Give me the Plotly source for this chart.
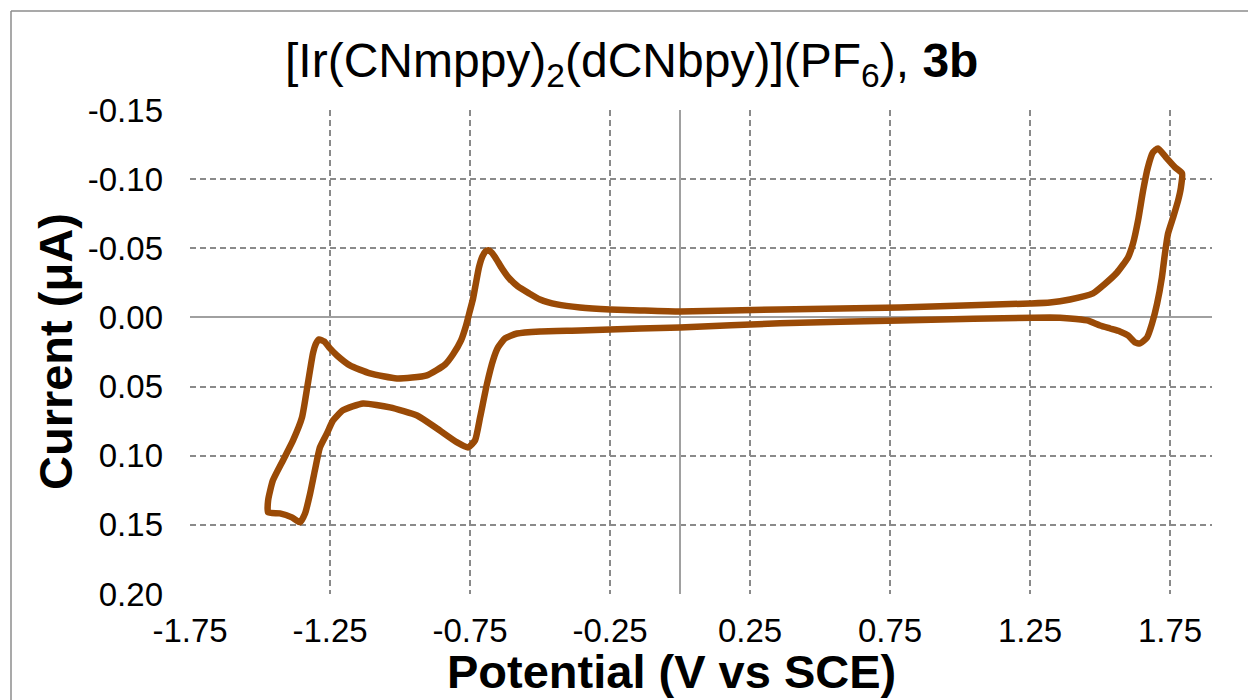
import plotly.graph_objects as go

# Cyclic voltammogram
# Forward sweep from the left vertex up to -0.5 V
pot_fwd_left = [-1.471, -1.454, -1.418, -1.382, -1.350, -1.329, -1.311, -1.300, -1.289, -1.271,
                -1.250, -1.225, -1.179, -1.107, -1.011, -0.904, -0.839, -0.811, -0.782, -0.764,
                -0.750, -0.739, -0.729, -0.718, -0.706, -0.694, -0.684, -0.672, -0.657, -0.636,
                -0.611, -0.579, -0.539]
cur_fwd_left = [0.1323, 0.1179, 0.1034, 0.0889, 0.0723, 0.0477, 0.0260, 0.0188, 0.0159, 0.0174,
                0.0224, 0.0275, 0.0347, 0.0405, 0.0441, 0.0419, 0.0340, 0.0268, 0.0166, 0.0058,
                -0.0051, -0.0137, -0.0246, -0.0362, -0.0440, -0.0478, -0.0486, -0.0468, -0.0425, -0.0355,
                -0.0285, -0.0224, -0.0174]

# Forward sweep from -0.5 V to the right vertex
pot_fwd_right = [-0.500, -0.439, -0.357, -0.250, -0.143, 0.000, 0.357, 0.786, 1.250, 1.321,
                 1.393, 1.475, 1.511, 1.561, 1.600, 1.618, 1.636, 1.654, 1.671, 1.689,
                 1.707, 1.739, 1.768, 1.793]
cur_fwd_right = [-0.0130, -0.0094, -0.0072, -0.0058, -0.0051, -0.0043, -0.0058, -0.0072, -0.0101, -0.0108,
                 -0.0130, -0.0174, -0.0231, -0.0325, -0.0434, -0.0535, -0.0701, -0.0918, -0.1085, -0.1193,
                 -0.1222, -0.1150, -0.1085, -0.1041]

# Reverse sweep from the right vertex back to the left vertex
pot_rev = [1.789, 1.779, 1.761, 1.743, 1.732, 1.721, 1.704, 1.686, 1.668, 1.643,
           1.625, 1.600, 1.571, 1.536, 1.500, 1.454, 1.393, 1.321, 0.786, 0.357,
           0.000, -0.143, -0.357, -0.500, -0.582, -0.625, -0.650, -0.668, -0.689, -0.714,
           -0.732, -0.757, -0.796, -0.868, -0.939, -1.036, -1.132, -1.204, -1.239, -1.261,
           -1.286, -1.304, -1.321, -1.339, -1.357, -1.386, -1.429, -1.471, -1.471]
cur_rev = [-0.0940, -0.0846, -0.0723, -0.0607, -0.0463, -0.0289, -0.0101, 0.0043, 0.0145, 0.0188,
           0.0181, 0.0130, 0.0101, 0.0080, 0.0058, 0.0022, 0.0007, 0.0000, 0.0022, 0.0043,
           0.0072, 0.0080, 0.0094, 0.0101, 0.0116, 0.0152, 0.0217, 0.0311, 0.0477, 0.0723,
           0.0889, 0.0940, 0.0904, 0.0803, 0.0709, 0.0651, 0.0622, 0.0672, 0.0745, 0.0839,
           0.0940, 0.1106, 0.1273, 0.1417, 0.1482, 0.1446, 0.1417, 0.1410, 0.1323]

x_tick_vals = [-1.75, -1.25, -0.75, -0.25, 0.25, 0.75, 1.25, 1.75]
x_tick_text = ["-1.75", "-1.25", "-0.75", "-0.25", "0.25", "0.75", "1.25", "1.75"]
y_tick_vals = [-0.15, -0.10, -0.05, 0.00, 0.05, 0.10, 0.15, 0.20]
y_tick_text = ["-0.15", "-0.10", "-0.05", "0.00", "0.05", "0.10", "0.15", "0.20"]

potential = pot_fwd_left + pot_fwd_right + pot_rev
current = cur_fwd_left + cur_fwd_right + cur_rev

FONT = "Arial, Liberation Sans, sans-serif"
GRID = "#8a8a8a"

fig = go.Figure()
fig.add_trace(go.Scatter(
    x=potential, y=current, mode="lines",
    line=dict(color="#9a4a06", width=6.5, shape="spline", smoothing=0.5),
    showlegend=False, hoverinfo="skip",
))

fig.update_layout(
    width=1248, height=700,
    margin=dict(l=190, r=36, t=110, b=106),
    paper_bgcolor="white", plot_bgcolor="white",
    font=dict(family=FONT, color="black"),
    showlegend=False,
)

fig.update_xaxes(
    range=[-1.75, 1.9],
    tickmode="array", tickvals=x_tick_vals, ticktext=x_tick_text,
    showgrid=True, gridcolor=GRID, gridwidth=1.5, griddash="6px,4px",
    zeroline=True, zerolinecolor="#a0a0a0", zerolinewidth=1.5,
    showline=False, ticks="",
    tickfont=dict(size=33, family=FONT, color="black"),
    ticklabelstandoff=14,
)
fig.update_yaxes(
    range=[0.20, -0.15],
    tickmode="array", tickvals=y_tick_vals, ticktext=y_tick_text,
    showgrid=True, gridcolor=GRID, gridwidth=1.5, griddash="6px,4px",
    zeroline=True, zerolinecolor="#a0a0a0", zerolinewidth=1.5,
    showline=False, ticks="",
    tickfont=dict(size=33, family=FONT, color="black"),
    ticklabelstandoff=26,
)

# frame of the chart area (left and top edges visible in the crop)
pw = 1248 - 190 - 36
ph = 700 - 110 - 106
fx0 = (11 - 190) / pw
fy_top = 1 + (110 - 11) / ph
fig.add_shape(type="line", xref="paper", yref="paper", x0=fx0, x1=fx0 + 2, y0=fy_top, y1=fy_top,
              line=dict(color="#8c8c8c", width=1.5))
fig.add_shape(type="line", xref="paper", yref="paper", x0=fx0, x1=fx0, y0=fy_top, y1=-1,
              line=dict(color="#8c8c8c", width=1.5))

# title and axis titles
fig.add_annotation(
    text="[Ir(CNmppy)<sub>2</sub>(dCNbpy)](PF<sub>6</sub>), <b>3b</b>",
    xref="paper", yref="paper", x=(631 - 190) / pw, y=1 + (110 - 64) / ph,
    xanchor="center", yanchor="middle", showarrow=False,
    font=dict(size=48, family=FONT, color="black"),
)
fig.add_annotation(
    text="<b>Potential (V vs SCE)</b>",
    xref="paper", yref="paper", x=(671 - 190) / pw, y=-(671 - 594) / ph,
    xanchor="center", yanchor="middle", showarrow=False,
    font=dict(size=47, family=FONT, color="black"),
)
fig.add_annotation(
    text="<b>Current (μA)</b>",
    xref="paper", yref="paper", x=-(190 - 55) / pw, y=0.5,
    xanchor="center", yanchor="middle", showarrow=False, textangle=-90,
    font=dict(size=47, family=FONT, color="black"),
)

fig.write_html("out.html")
